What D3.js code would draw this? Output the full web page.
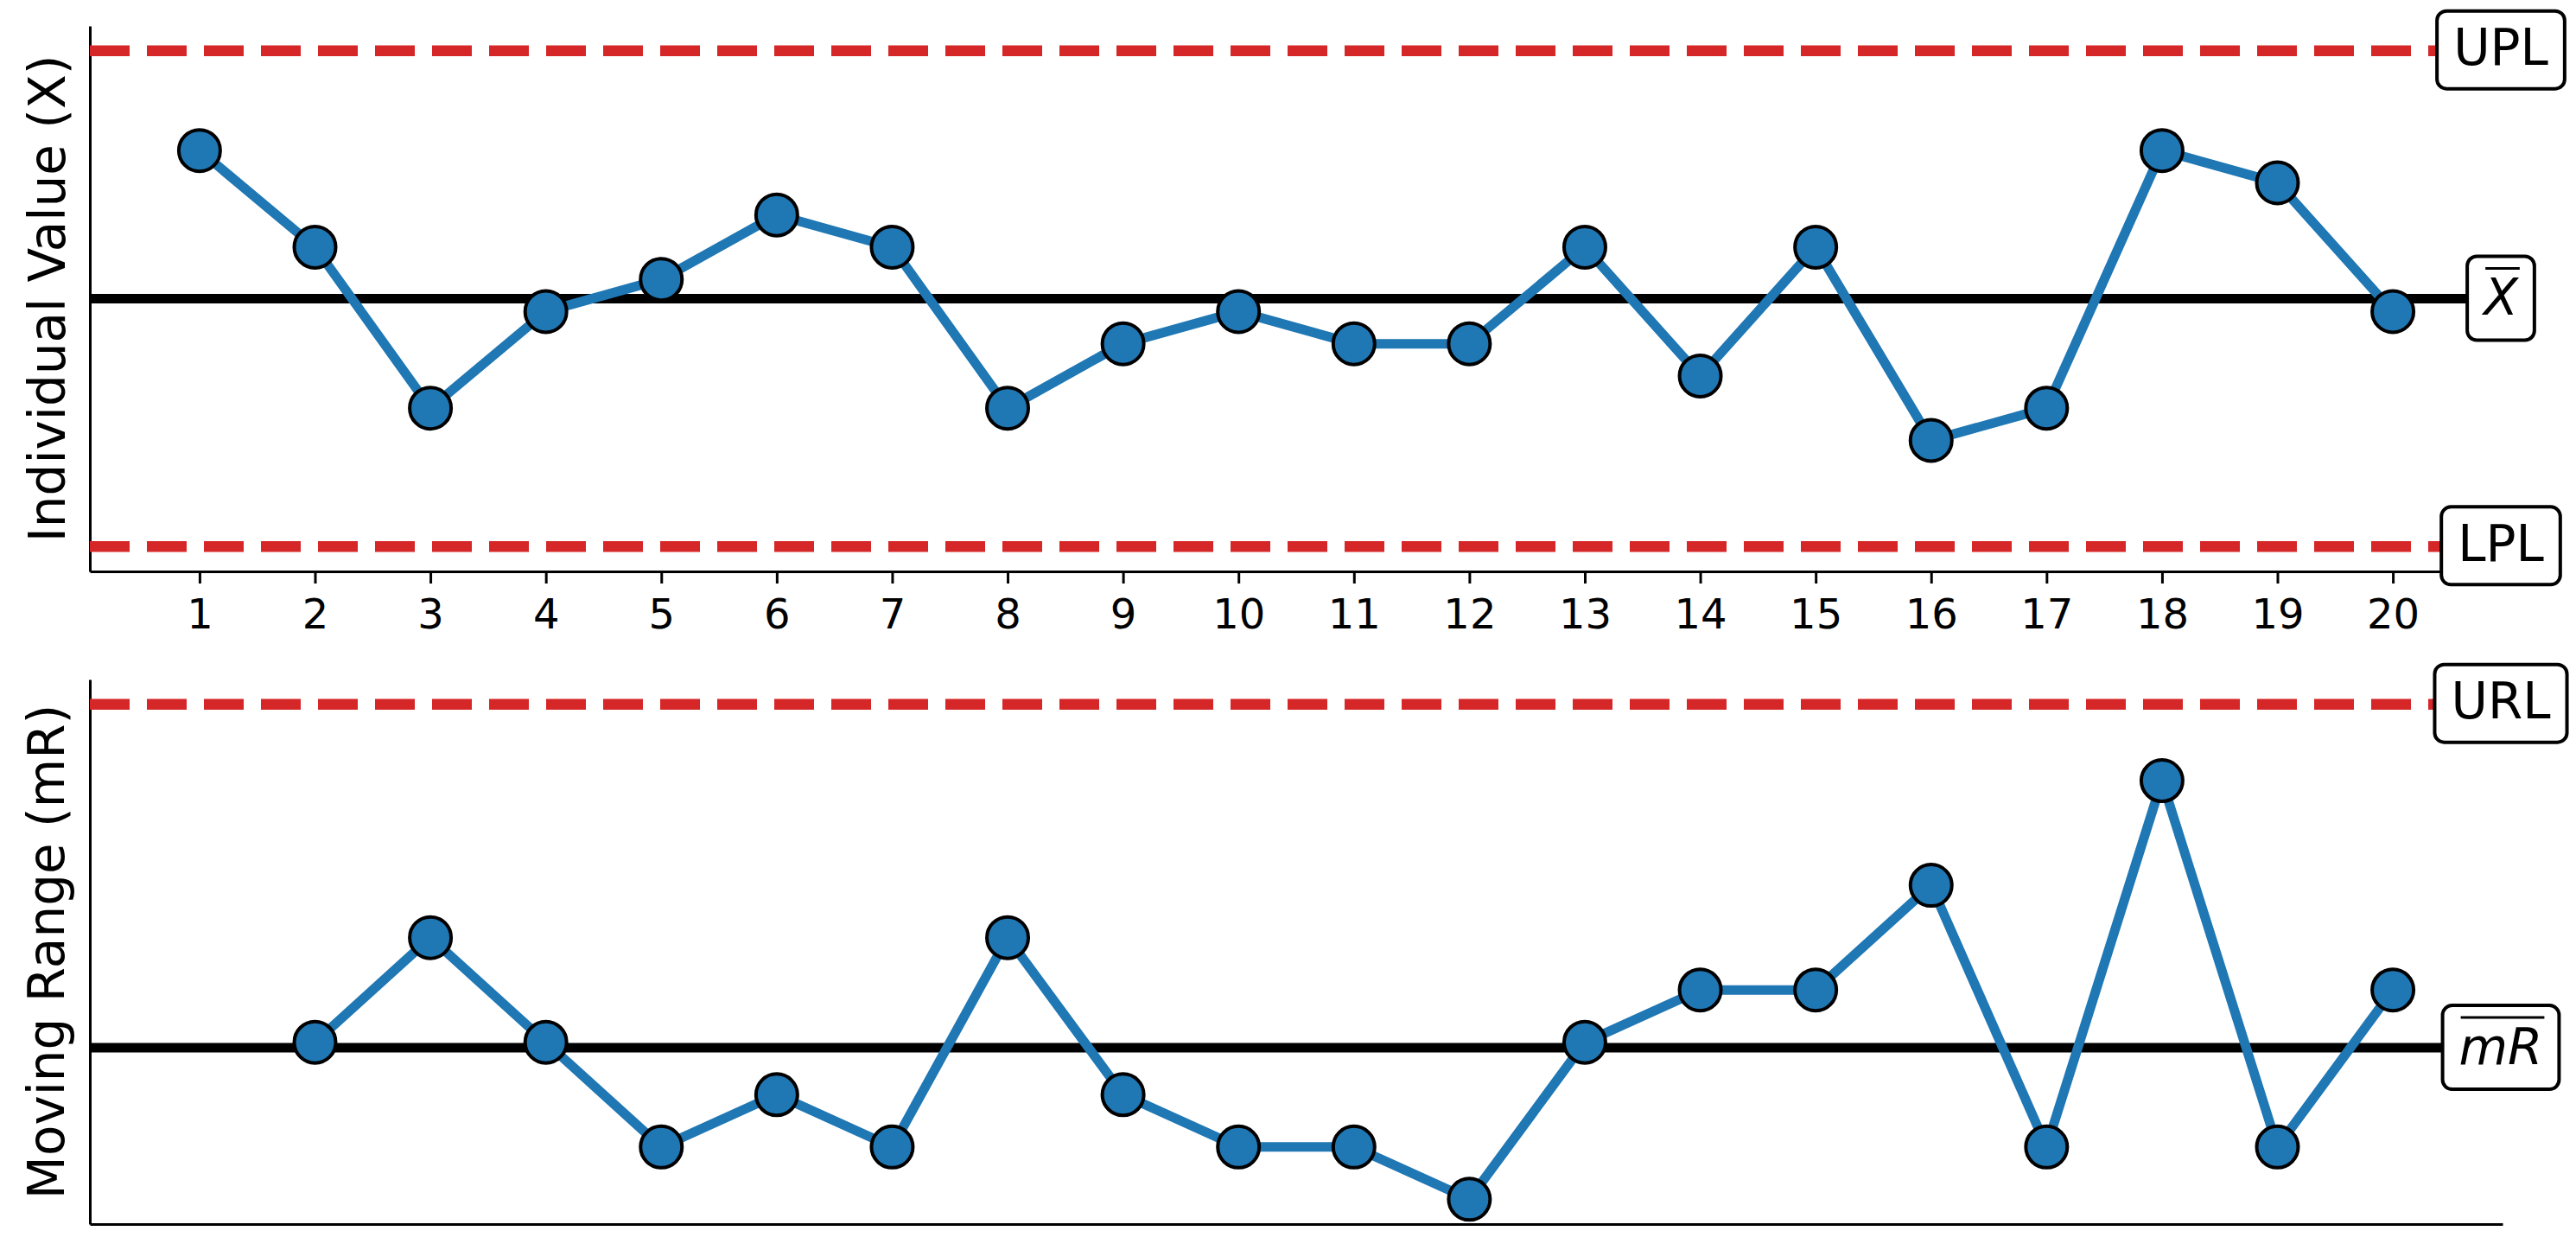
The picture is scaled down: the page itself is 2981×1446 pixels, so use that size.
<!DOCTYPE html>
<html>
<head>
<meta charset="utf-8">
<script src="https://cdn.jsdelivr.net/npm/d3@7"></script>
<style>
  html, body { margin: 0; padding: 0; background: #fff; }
  svg { display: block; font-family: "DejaVu Sans", sans-serif; }
</style>
</head>
<body>
<svg id="chart" width="2981" height="1446"></svg>
<script>
// ---- data ----
const samples = [1,2,3,4,5,6,7,8,9,10,11,12,13,14,15,16,17,18,19,20];
const individualValues = [15,12,7,10,11,13,12,7,9,10,9,9,12,8,12,6,7,15,14,10];
const movingRanges = [null,3,5,3,1,2,1,5,2,1,1,0,3,4,4,6,1,8,1,4];
const tickLabels = ["1","2","3","4","5","6","7","8","9","10","11","12","13","14","15","16","17","18","19","20"];
const xBar = 10.4;
const upperLimit = 18.10;
const lowerLimit = 2.70;
const mRBar = 2.895;
const upperRangeLimit = 9.46;
const xLabels = [
  {text: "UPL", value: upperLimit, math: false},
  {text: "X", value: xBar, math: true},
  {text: "LPL", value: lowerLimit, math: false}
];
const mrLabels = [
  {text: "URL", value: upperRangeLimit, math: false},
  {text: "mR", value: mRBar, math: true}
];

// ---- layout ----
const left = 104, right = 2896;
const top1 = 30, bottom1 = 661;
const top2 = 786, bottom2 = 1416;
const blue = "#1f77b4", red = "#d62728";

const svg = d3.select("#chart");

const x = d3.scaleLinear().domain([0.05, 20.95]).range([left, right]);

const span1 = upperLimit - lowerLimit;
const y1 = d3.scaleLinear()
  .domain([lowerLimit - 0.05 * span1, upperLimit + 0.05 * span1])
  .range([bottom1, top1]);
const y2 = d3.scaleLinear()
  .domain([0 - 0.05 * upperRangeLimit, upperRangeLimit * 1.05])
  .range([bottom2, top2]);

function panel(yScale, values, center, upper, lower, labels, yTitle, titleX, showTicks) {
  const g = svg.append("g");
  const [yb, yt] = yScale.range();

  // spines
  const yAxis = g.append("g").attr("transform", `translate(${left},0)`)
    .call(d3.axisLeft(yScale).tickValues([]).tickSizeOuter(0));
  yAxis.select(".domain").attr("stroke", "#000").attr("stroke-width", 3);

  const xAxisGen = d3.axisBottom(x);
  if (showTicks) {
    xAxisGen.tickValues(samples).tickFormat((d, i) => tickLabels[i]).tickSize(14).tickPadding(18);
  } else {
    xAxisGen.tickValues([]);
  }
  xAxisGen.tickSizeOuter(0);
  const xAxis = g.append("g").attr("transform", `translate(0,${yb})`).call(xAxisGen);
  xAxis.select(".domain").attr("stroke", "#000").attr("stroke-width", 3);
  xAxis.selectAll(".tick line").attr("stroke", "#000").attr("stroke-width", 3);
  xAxis.selectAll(".tick text")
    .attr("font-family", "DejaVu Sans")
    .attr("font-size", 48)
    .attr("fill", "#000");

  // center line
  g.append("line")
    .attr("x1", x.range()[0]).attr("x2", x.range()[1])
    .attr("y1", yScale(center)).attr("y2", yScale(center))
    .attr("stroke", "#000").attr("stroke-width", 11);

  // limit lines
  [upper, lower].filter(v => v !== null).forEach(v => {
    g.append("line")
      .attr("x1", x.range()[0]).attr("x2", x.range()[1])
      .attr("y1", yScale(v)).attr("y2", yScale(v))
      .attr("stroke", red).attr("stroke-width", 12.5)
      .attr("stroke-dasharray", "46,20");
  });

  // series
  const pts = samples.map((s, i) => ({s, v: values[i]})).filter(d => d.v !== null);
  const line = d3.line().x(d => x(d.s)).y(d => yScale(d.v));
  g.append("path").datum(pts)
    .attr("d", line)
    .attr("fill", "none")
    .attr("stroke", blue)
    .attr("stroke-width", 11)
    .attr("stroke-linejoin", "round");
  g.selectAll("circle.pt").data(pts).join("circle")
    .attr("class", "pt")
    .attr("cx", d => x(d.s)).attr("cy", d => yScale(d.v))
    .attr("r", 24)
    .attr("fill", blue)
    .attr("stroke", "#000")
    .attr("stroke-width", 4);

  // labels in boxes
  const cx = right - 2;
  labels.forEach(lb => {
    const ly = yScale(lb.value);
    const lg = g.append("g");
    const rect = lg.append("rect");
    const t = lg.append("text")
      .attr("x", cx)
      .attr("y", ly + (lb.math ? 18.5 : 16.5))
      .attr("text-anchor", "middle")
      .attr("font-family", "DejaVu Sans")
      .attr("font-size", 58)
      .attr("font-style", lb.math ? "italic" : "normal")
      .attr("fill", "#000")
      .text(lb.text);
    const w = t.node().getComputedTextLength();
    const bw = w + 38;
    if (lb.math) {
      rect.attr("x", cx - bw / 2).attr("y", ly - 49).attr("width", bw).attr("height", 97);
      lg.append("line")
        .attr("x1", cx - w / 2 + 2).attr("x2", cx + w / 2 + 2)
        .attr("y1", ly - 35).attr("y2", ly - 35)
        .attr("stroke", "#000").attr("stroke-width", 3);
    } else {
      rect.attr("x", cx - bw / 2).attr("y", ly - 46).attr("width", bw).attr("height", 90);
    }
    rect.attr("rx", 11).attr("ry", 11)
      .attr("fill", "#fff").attr("stroke", "#000").attr("stroke-width", 4);
  });

  // y title
  svg.append("text")
    .attr("transform", `translate(${titleX},${(yt + yb) / 2}) rotate(-90)`)
    .attr("text-anchor", "middle")
    .attr("font-family", "DejaVu Sans")
    .attr("font-size", 58)
    .attr("fill", "#000")
    .text(yTitle);
}

panel(y1, individualValues, xBar, upperLimit, lowerLimit, xLabels, "Individual Value (X)", 75, true);
panel(y2, movingRanges, mRBar, upperRangeLimit, null, mrLabels, "Moving Range (mR)", 74, false);
</script>
</body>
</html>
